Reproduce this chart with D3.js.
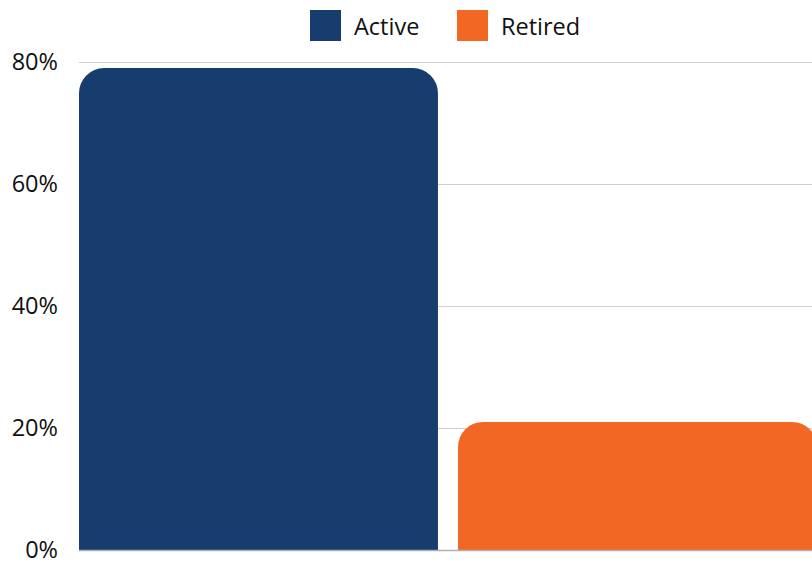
<!DOCTYPE html>
<html>
<head>
<meta charset="utf-8">
<script src="https://cdn.jsdelivr.net/npm/d3@7"></script>
<style>
  body { margin: 0; background: #fff; }
  svg { display: block; font-family: "Open Sans", sans-serif; }
</style>
</head>
<body>
<div id="chart"></div>
<script>
// data
const categories = ["Active", "Retired"];
const shares = [79, 21];
const colors = ["#173d6f", "#f26724"];
const yTicks = [0, 20, 40, 60, 80];

const width = 812, height = 563;
const margin = {top: 62, right: -5, bottom: 13, left: 79};
const innerW = width - margin.left - margin.right;
const innerH = height - margin.top - margin.bottom;

const svg = d3.select("#chart")
    .append("svg")
    .attr("width", width)
    .attr("height", height);

const g = svg.append("g")
    .attr("transform", `translate(${margin.left},${margin.top})`);

// scales
const x = d3.scaleBand()
    .domain(categories)
    .range([0, innerW])
    .paddingInner(0.053)
    .paddingOuter(0);
const y = d3.scaleLinear()
    .domain([0, 80])
    .range([innerH, 0]);

// gridlines
g.append("g")
    .selectAll("line")
    .data(yTicks.filter(d => d > 0))
    .join("line")
    .attr("x1", 0)
    .attr("x2", width - margin.left)
    .attr("y1", d => y(d) + 0.5)
    .attr("y2", d => y(d) + 0.5)
    .attr("stroke", "#cfcfcf")
    .attr("stroke-width", 1);

// y axis labels
const yAxis = d3.axisLeft(y)
    .tickValues(yTicks)
    .tickFormat(d => d + "%")
    .tickSize(0)
    .tickPadding(21);
g.append("g")
    .call(yAxis)
    .call(a => a.select(".domain").remove())
    .selectAll("text")
    .attr("fill", "#111")
    .style("font-size", "23.5px")
    .style("font-family", "Open Sans, sans-serif");

// bars with rounded tops
const r = 25;
function topRounded(x0, y0, w, h) {
    const rr = Math.min(r, w / 2, h);
    return `M${x0},${y0 + h}` +
        `V${y0 + rr}` +
        `A${rr},${rr} 0 0 1 ${x0 + rr},${y0}` +
        `H${x0 + w - rr}` +
        `A${rr},${rr} 0 0 1 ${x0 + w},${y0 + rr}` +
        `V${y0 + h}Z`;
}

g.append("g")
    .selectAll("path")
    .data(categories)
    .join("path")
    .attr("d", (d, i) => topRounded(x(d), y(shares[i]), x.bandwidth(), innerH - y(shares[i])))
    .attr("fill", (d, i) => colors[i]);

// baseline
g.append("line")
    .attr("x1", 0)
    .attr("x2", width - margin.left)
    .attr("y1", innerH + 0.5)
    .attr("y2", innerH + 0.5)
    .attr("stroke", "#b0b0b0")
    .attr("stroke-width", 1.5);

// legend
const legendX = [310, 457];
const legend = svg.append("g");
categories.forEach(function (c, i) {
    legend.append("rect")
        .attr("x", legendX[i])
        .attr("y", 10)
        .attr("width", 31)
        .attr("height", 31)
        .attr("fill", colors[i]);
    legend.append("text")
        .attr("x", legendX[i] + 44)
        .attr("y", 26)
        .attr("dominant-baseline", "central")
        .style("font-size", "23.5px")
        .attr("fill", "#111")
        .text(c);
});
</script>
</body>
</html>
